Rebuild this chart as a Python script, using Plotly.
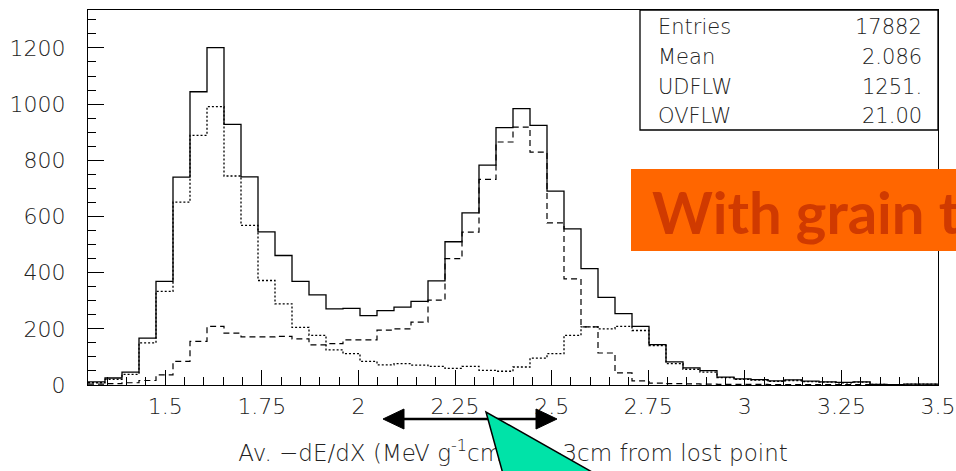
import numpy as np
import plotly.graph_objects as go

# ---------------- data ----------------
x_min, x_max, n_bins = 1.3, 3.5, 50
total = [11, 25, 46, 167, 369, 740, 1044, 1201, 928, 741, 545, 461, 369, 321, 271, 273, 247, 265, 277, 298,
         371, 510, 613, 783, 916, 984, 924, 690, 556, 414, 312, 254, 209, 144, 82, 61, 51, 28, 22, 19,
         15, 18, 14, 11, 9, 11, 2, 1, 3, 3]
first_peak = [8, 20, 38, 150, 333, 651, 889, 991, 744, 568, 372, 289, 205, 177, 125, 112, 84, 72, 76, 71,
              66, 59, 66, 52, 49, 64, 96, 112, 177, 207, 200, 209, 194, 140, 76, 56, 46, 26, 20, 17,
              13, 16, 12, 10, 8, 10, 2, 1, 3, 3]
second_peak = [3, 5, 8, 16, 36, 84, 155, 209, 185, 171, 171, 173, 164, 143, 147, 161, 161, 195, 200, 224,
               302, 450, 544, 732, 865, 918, 829, 577, 378, 207, 114, 43, 15, 7, 5, 4, 3, 2, 2, 2,
               1, 1, 1, 1, 1, 1, 0, 0, 0, 0]
xtick_vals = [1.5, 1.75, 2, 2.25, 2.5, 2.75, 3, 3.25, 3.5]
xtick_text = ["1.5", "1.75", "2", "2.25", "2.5", "2.75", "3", "3.25", "3.5"]
ytick_vals = [0, 200, 400, 600, 800, 1000, 1200]
ytick_text = ["0", "200", "400", "600", "800", "1000", "1200"]
stats_labels = ["Entries", "Mean", "UDFLW", "OVFLW"]
stats_values = ["17882", "2.086", "1251.", "21.00"]
x_title = "Av. \u2212dE/dX (MeV g<sup>-1</sup>cm<sup>2</sup>) 2\u22123cm from lost point"
banner_text = "With grain threshold"

# ---------------- figure ----------------
W, H = 956, 471
L, R, T, B = 88, 938, 10, 385
FONT = "DejaVu Sans"
MAIN_BOTTOM = (H - B) / (H - T)   # paper fraction where the main frame starts


def pxx(x):
    return (x - L) / (R - L)


def pxy(y):
    return (H - y) / (H - T)


edges = np.linspace(x_min, x_max, n_bins + 1)


def step(vals):
    return list(vals) + [vals[-1]]


fig = go.Figure()
fig.add_trace(go.Scatter(x=edges, y=step(first_peak), mode="lines", line_shape="hv",
                         line=dict(color="black", width=1.3, dash="2px,2px"), hoverinfo="skip"))
fig.add_trace(go.Scatter(x=edges, y=step(second_peak), mode="lines", line_shape="hv",
                         line=dict(color="black", width=1.2, dash="6px,4px"), hoverinfo="skip"))
fig.add_trace(go.Scatter(x=edges, y=step(total), mode="lines", line_shape="hv",
                         line=dict(color="black", width=1.3), hoverinfo="skip"))
# axis title drawn as text in a hidden strip under the frame, so the callout can sit on top
fig.add_trace(go.Scatter(x=[513], y=[455], mode="text", text=[x_title], textposition="middle center",
                         cliponaxis=False, hoverinfo="skip", xaxis="x2", yaxis="y2",
                         textfont=dict(family=FONT, size=23, color="#222", weight=200)))

tickfont = dict(family=FONT, size=22, color="#222", weight=200)
fig.update_layout(
    width=W, height=H, margin=dict(l=L, r=W - R, t=T, b=0, autoexpand=False),
    paper_bgcolor="white", plot_bgcolor="white", showlegend=False,
    xaxis=dict(range=[x_min, x_max], tickmode="array", tickvals=xtick_vals, ticktext=xtick_text,
               ticks="inside", ticklen=15, tickwidth=1, tickcolor="black",
               minor=dict(tick0=1.5, dtick=0.05, ticks="inside", ticklen=8, tickwidth=1, tickcolor="black"),
               showline=True, linecolor="black", linewidth=1, mirror=True, showgrid=False, zeroline=False,
               tickfont=tickfont, ticklabelstandoff=2, anchor="y"),
    yaxis=dict(range=[0, 1335], domain=[MAIN_BOTTOM, 1], tickmode="array", tickvals=ytick_vals,
               ticktext=ytick_text,
               ticks="inside", ticklen=16, tickwidth=1, tickcolor="black",
               minor=dict(tick0=0, dtick=50, ticks="inside", ticklen=8, tickwidth=1, tickcolor="black"),
               showline=True, linecolor="black", linewidth=1, mirror=True, showgrid=False, zeroline=False,
               tickfont=tickfont, ticklabelstandoff=17, anchor="x"),
    xaxis2=dict(range=[L, R], domain=[0, 1], visible=False, anchor="y2", fixedrange=True),
    yaxis2=dict(range=[H, B], domain=[0, MAIN_BOTTOM * 0.98], visible=False, anchor="x2", fixedrange=True),
)

shapes = []
# stats box
shapes.append(dict(type="rect", xref="paper", yref="paper", x0=pxx(640), x1=pxx(938), y0=pxy(130), y1=pxy(10),
                   fillcolor="white", line=dict(color="black", width=1.3), layer="above"))
# orange banner
shapes.append(dict(type="rect", xref="paper", yref="paper", x0=pxx(631), x1=pxx(1000), y0=pxy(251), y1=pxy(169),
                   fillcolor="#FF6600", line=dict(width=0), layer="above"))
# double arrow
ay = 419
shapes.append(dict(type="line", xref="paper", yref="paper", x0=pxx(395), x1=pxx(545), y0=pxy(ay), y1=pxy(ay),
                   line=dict(color="black", width=2.5), layer="above"))
for tip, base in [(383, 404), (557, 536)]:
    shapes.append(dict(type="path", xref="paper", yref="paper",
                       path=f"M {pxx(tip)} {pxy(ay)} L {pxx(base)} {pxy(ay - 10)} L {pxx(base)} {pxy(ay + 10)} Z",
                       fillcolor="black", line=dict(color="black", width=1), layer="above"))
# green callout
shapes.append(dict(type="path", xref="paper", yref="paper",
                   path=f"M {pxx(486)} {pxy(412)} L {pxx(506)} {pxy(485)} L {pxx(615)} {pxy(485)} Z",
                   fillcolor="#00E3A8", line=dict(color="black", width=1.5), layer="above"))
fig.update_layout(shapes=shapes)

ann = []
ys = [26.7, 56.7, 86.7, 116]
for lab, val, y in zip(stats_labels, stats_values, ys):
    ann.append(dict(xref="paper", yref="paper", x=pxx(656), y=pxy(y), text=lab, showarrow=False,
                    xanchor="left", yanchor="middle", font=dict(family=FONT, size=21, color="#222", weight=200)))
    ann.append(dict(xref="paper", yref="paper", x=pxx(924), y=pxy(y), text=val, showarrow=False,
                    xanchor="right", yanchor="middle", font=dict(family=FONT, size=21, color="#222", weight=200)))
ann.append(dict(xref="paper", yref="paper", x=pxx(650), y=pxy(211), text=banner_text, showarrow=False,
                xanchor="left", yanchor="middle",
                font=dict(family="Lato", size=58, color="#D03A00", weight="bold")))
fig.update_layout(annotations=ann)

fig.write_html("out.html")
